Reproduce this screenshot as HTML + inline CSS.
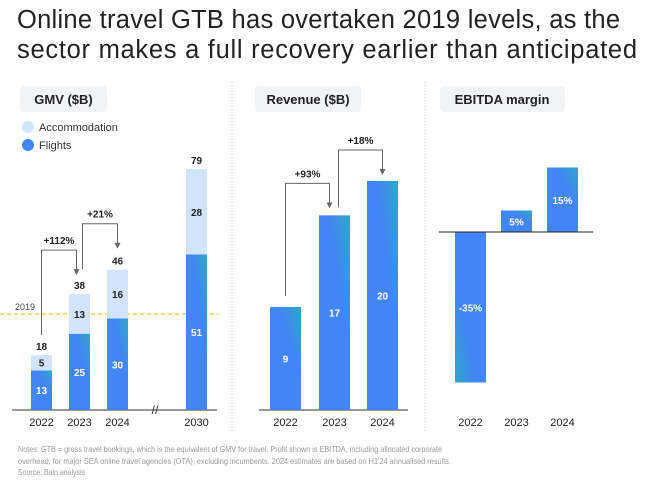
<!DOCTYPE html>
<html><head><meta charset="utf-8">
<style>
body{margin:0;background:#fff;width:654px;height:485px;overflow:hidden;font-family:"Liberation Sans",sans-serif}
svg{display:block}
</style></head>
<body>
<svg id="c" width="654" height="485" xmlns="http://www.w3.org/2000/svg">
<defs>
<linearGradient id="bg" x1="0" y1="1" x2="1" y2="0">
<stop offset="0.65" stop-color="#4285f4"/><stop offset="1" stop-color="#2fa7c8"/>
</linearGradient>
<linearGradient id="bg2" x1="1" y1="0" x2="0" y2="1">
<stop offset="0.65" stop-color="#4285f4"/><stop offset="1" stop-color="#2fa7c8"/>
</linearGradient>
<marker id="ah" markerWidth="6" markerHeight="6" refX="3" refY="5" orient="0" markerUnits="userSpaceOnUse">
<path d="M0,0 L6,0 L3,6 z" fill="#666"/></marker>
</defs>
<text x="17" y="28" font-size="25.5" fill="#222" textLength="603">Online travel GTB has overtaken 2019 levels, as the</text>
<text x="17" y="58" font-size="25.5" fill="#222" textLength="620">sector makes a full recovery earlier than anticipated</text>
<line x1="232" y1="82" x2="232" y2="432" stroke="#ccc" stroke-dasharray="1,2"/>
<line x1="425" y1="82" x2="425" y2="432" stroke="#ccc" stroke-dasharray="1,2"/>
<rect x="20" y="86" width="87" height="26" rx="4" fill="#f1f3f4"/>
<text x="63.5" y="104" font-size="13" font-weight="bold" fill="#222" text-anchor="middle">GMV ($B)</text>
<rect x="255" y="86" width="106" height="26" rx="4" fill="#f1f3f4"/>
<text x="308" y="104" font-size="13" font-weight="bold" fill="#222" text-anchor="middle">Revenue ($B)</text>
<rect x="440" y="86" width="125" height="26" rx="4" fill="#f1f3f4"/>
<text x="502" y="104" font-size="13" font-weight="bold" fill="#222" text-anchor="middle">EBITDA margin</text>
<circle cx="28" cy="127" r="6" fill="#d2e3fc"/>
<text x="39" y="131" font-size="11" fill="#333">Accommodation</text>
<circle cx="28" cy="145" r="6" fill="#4285f4"/>
<text x="39" y="149" font-size="11" fill="#333">Flights</text>
<line x1="0" y1="314" x2="218" y2="314" stroke="#f4b400" stroke-dasharray="4,3"/>
<text x="15" y="310" font-size="9" fill="#444">2019</text>
<g id="g"></g>
<text x="18" y="452" font-size="8.3" fill="#999" textLength="424" lengthAdjust="spacingAndGlyphs">Notes: GTB = gross travel bookings, which is the equivalent of GMV for travel. Profit shown is EBITDA, including allocated corporate</text>
<text x="18" y="464" font-size="8.3" fill="#999" textLength="433" lengthAdjust="spacingAndGlyphs">overhead, for major SEA online travel agencies (OTA), excluding incumbents. 2024 estimates are based on H1'24 annualised results.</text>
<text x="18" y="475" font-size="8.3" fill="#999" textLength="67" lengthAdjust="spacingAndGlyphs">Source: Bain analysis</text>
</svg>
<script>
const gmvYears=["2022","2023","2024","2030"];
const gmvFlights=[13,25,30,51];
const gmvAccom=[5,13,16,28];
const gmvTotals=[18,38,46,79];
const revYears=["2022","2023","2024"];
const revValues=[9,17,20];
const ebYears=["2022","2023","2024"];
const ebValues=[-35,5,15];
const gmvGrowth=["+112%","+21%"];
const revGrowth=["+93%","+18%"];

const NS="http://www.w3.org/2000/svg";
const G=document.getElementById('g');
function el(t,a,txt){const e=document.createElementNS(NS,t);for(const k in a)e.setAttribute(k,a[k]);if(txt!==undefined)e.textContent=txt;G.appendChild(e);return e;}

// GMV axis
const gBase=410, gScale=3.05, gX=[31,69,107,186], gW=21;
const gy=v=>gBase-v*gScale;
let e=el('line',{x1:12,y1:gBase,x2:217,y2:gBase,stroke:'#333'});


e=el('text',{x:155,y:gBase+4,'font-size':12,fill:'#333','text-anchor':'middle'},'//');


gmvYears.forEach((y,i)=>{
  const x=gX[i],cx=x+gW/2;
  let r=el('rect',{x:x,y:gy(gmvFlights[i]),width:gW,height:gmvFlights[i]*gScale,fill:'url(#bg)'});
  
  
  r=el('rect',{x:x,y:gy(gmvFlights[i]+gmvAccom[i]),width:gW,height:gmvAccom[i]*gScale,fill:'#d2e3fc'});
  
  
  let t=el('text',{x:cx,y:gy(gmvFlights[i]/2)+4,'font-size':10,'font-weight':'bold',fill:'#fff','text-anchor':'middle'},gmvFlights[i]);
  
  
  t=el('text',{x:cx,y:gy(gmvFlights[i]+gmvAccom[i]/2)+4,'font-size':10,'font-weight':'bold',fill:'#222','text-anchor':'middle'},gmvAccom[i]);
  
  
  t=el('text',{x:cx,y:gy(gmvTotals[i])-5,'font-size':10,'font-weight':'bold',fill:'#222','text-anchor':'middle'},gmvTotals[i]);
  
  
  t=el('text',{x:cx,y:426,'font-size':11,fill:'#222','text-anchor':'middle'},y);
  
  
});
function arrow(x1,yStart,x2,yEnd,yTop,label,name){
  let p=el('path',{d:`M${x1},${yStart} V${yTop} H${x2} V${yEnd}`,fill:'none',stroke:'#666','stroke-width':1,'marker-end':'url(#ah)'});
  
  
  let t=el('text',{x:(x1+x2)/2,y:yTop-6,'font-size':10,'font-weight':'bold',fill:'#222','text-anchor':'middle'},label);
  
  
}
arrow(gX[0]+gW/2,gy(gmvTotals[0])-20,gX[1]+gW/2-3,gy(gmvTotals[1])-20,gy(gmvTotals[1])-44,gmvGrowth[0],'gmv-growth-2023');
arrow(gX[1]+gW/2+3,gy(gmvTotals[1])-25,gX[2]+gW/2,gy(gmvTotals[2])-22,gy(gmvTotals[2])-46,gmvGrowth[1],'gmv-growth-2024');

// Revenue
const rBase=410, rScale=11.45, rX=[270,319,367], rW=31;
const ry=v=>rBase-v*rScale;
e=el('line',{x1:259,y1:rBase,x2:408,y2:rBase,stroke:'#333'});


revYears.forEach((y,i)=>{
  const x=rX[i],cx=x+rW/2;
  let r=el('rect',{x:x,y:ry(revValues[i]),width:rW,height:revValues[i]*rScale,fill:'url(#bg)'});
  
  
  let t=el('text',{x:cx,y:ry(revValues[i]/2)+4,'font-size':10,'font-weight':'bold',fill:'#fff','text-anchor':'middle'},revValues[i]);
  
  
  t=el('text',{x:cx,y:426,'font-size':11,fill:'#222','text-anchor':'middle'},y);
  
  
});
arrow(rX[0]+rW/2,ry(revValues[0])-11,rX[1]+rW/2-5,ry(revValues[1])-8,ry(revValues[1])-32,revGrowth[0],'revenue-growth-2023');
arrow(rX[1]+rW/2+4,ry(revValues[1])-8,rX[2]+rW/2,ry(revValues[2])-7,ry(revValues[2])-31,revGrowth[1],'revenue-growth-2024');

// EBITDA
const eZero=232, eScale=4.3, eX=[455,501,547], eW=31;
const ey=v=>eZero-v*eScale;
ebYears.forEach((y,i)=>{
  const v=ebValues[i],x=eX[i],cx=x+eW/2;
  const top=Math.min(ey(v),eZero),h=Math.abs(v)*eScale;
  let r=el('rect',{x:x,y:top,width:eW,height:h,fill:v<0?'url(#bg2)':'url(#bg)'});
  
  
  let t=el('text',{x:cx,y:top+h/2+4,'font-size':10,'font-weight':'bold',fill:'#fff','text-anchor':'middle'},v+'%');
  
  
  t=el('text',{x:cx,y:426,'font-size':11,fill:'#222','text-anchor':'middle'},y);
  
  
});
e=el('line',{x1:439,y1:eZero,x2:593,y2:eZero,stroke:'#222'});


</script>
</body></html>
